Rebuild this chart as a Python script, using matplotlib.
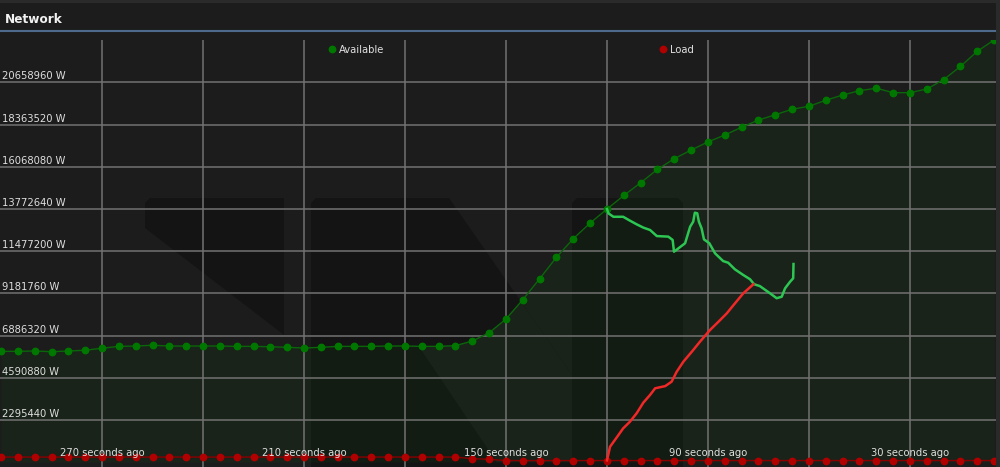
import matplotlib
matplotlib.use('Agg')
import matplotlib.pyplot as plt
from matplotlib.patches import Polygon, Rectangle
from matplotlib.lines import Line2D

# sampled series, one point every 5 seconds (seconds ago)
seconds_ago = list(range(300, 0, -5))
available_w = [6.03e6, 6.03e6, 6.05e6, 6.01e6, 6.05e6, 6.09e6, 6.20e6, 6.30e6, 6.32e6, 6.36e6,
               6.32e6, 6.32e6, 6.32e6, 6.32e6, 6.30e6, 6.30e6, 6.28e6, 6.25e6, 6.21e6, 6.25e6,
               6.30e6, 6.30e6, 6.30e6, 6.32e6, 6.32e6, 6.30e6, 6.30e6, 6.34e6, 6.59e6, 7.04e6,
               7.79e6, 8.84e6, 9.98e6, 11.15e6, 12.16e6, 13.01e6, 13.77e6, 14.51e6, 15.20e6, 15.93e6,
               16.51e6, 16.98e6, 17.42e6, 17.80e6, 18.22e6, 18.61e6, 18.90e6, 19.20e6, 19.36e6, 19.69e6,
               19.97e6, 20.21e6, 20.34e6, 20.10e6, 20.10e6, 20.30e6, 20.81e6, 21.53e6, 22.35e6, 22.97e6]
load_w = [0.28e6] * 28 + [0.19e6, 0.16e6] + [0.09e6] * 30

# live (high-rate) traces
live_available_s = [120.0, 119.6, 118.1, 115.2, 113.2, 111.2, 109.2, 107.2, 105.2, 101.8,
                    100.5, 100.1, 98.8, 96.8, 95.3, 94.4, 93.9, 93.2, 92.7, 91.9,
                    91.2, 89.6, 87.9, 85.5, 84.0, 82.0, 79.5, 77.5, 76.3, 74.6,
                    71.6, 69.6, 68.1, 67.1, 65.6, 64.7, 64.6]
live_available_w = [13.77e6, 13.54e6, 13.35e6, 13.35e6, 13.14e6, 12.94e6, 12.76e6, 12.63e6, 12.30e6, 12.27e6,
                    12.09e6, 11.45e6, 11.63e6, 11.91e6, 12.81e6, 13.08e6, 13.57e6, 13.54e6, 13.08e6, 12.72e6,
                    12.12e6, 11.91e6, 11.36e6, 10.94e6, 10.85e6, 10.49e6, 10.18e6, 9.95e6, 9.68e6, 9.58e6,
                    9.19e6, 8.92e6, 9.00e6, 9.46e6, 9.82e6, 10.00e6, 10.78e6]
live_load_s = [120.0, 119.1, 117.1, 115.2, 113.2, 111.2, 109.2, 107.2, 105.7, 102.7,
               100.8, 99.3, 97.3, 94.8, 92.4, 89.4, 86.9, 84.4, 82.4, 79.5, 76.5]
live_load_w = [0.10e6, 0.84e6, 1.35e6, 1.84e6, 2.20e6, 2.66e6, 3.24e6, 3.66e6, 4.02e6, 4.14e6,
               4.38e6, 4.92e6, 5.47e6, 6.01e6, 6.55e6, 7.19e6, 7.64e6, 8.10e6, 8.55e6, 9.19e6, 9.68e6]

y_ticks = [2295440, 4590880, 6886320, 9181760, 11477200, 13772640, 16068080, 18363520, 20658960]
x_grid = [270, 240, 210, 180, 150, 120, 90, 60, 30]
x_labels = [270, 210, 150, 90, 30]

W, H = 1000, 467
BG = '#1c1c1c'
fig = plt.figure(figsize=(W / 100, H / 100), dpi=100, facecolor=BG)
ax = fig.add_axes([0, 0, 996 / W, 1 - 40 / H])
ax.set_facecolor(BG)
ax.set_xlim(-300.3, -4.45)
ax.set_ylim(-0.261e6, 22.965e6)
for sp in ax.spines.values():
    sp.set_visible(False)
ax.set_xticks([-s for s in x_grid])
ax.set_yticks(y_ticks)
ax.tick_params(length=0, labelbottom=False, labelleft=False)
ax.set_axisbelow('line')
ax.grid(True, color='#727272', lw=1.1)


# faint logo watermark (pixel coords -> axes fraction)
def px(x, y):
    return (x / 996, (H - y) / 427)


logo_shapes = [
    [(150, 198), (284, 198), (284, 335), (145, 228), (145, 203)],
    [(316, 198), (449, 198), (572, 375), (572, 467), (311, 467), (311, 203)],
    [(577, 198), (678, 198), (683, 203), (683, 467), (572, 467), (572, 203)],
]
for shape in logo_shapes:
    ax.add_patch(Polygon([px(*p) for p in shape], closed=True, transform=ax.transAxes,
                         facecolor='#141414', edgecolor='none', zorder=0.5))

x = [-s for s in seconds_ago]

# lighter diagonal stroke of the logo, only visible under the filled area
area = Polygon(list(zip(x, available_w)) + [(x[-1], 0), (x[0], 0)], closed=True,
               transform=ax.transData, facecolor='none', edgecolor='none')
strip = Polygon([px(*p) for p in [(319, 198), (449, 198), (572, 375), (572, 467), (500, 467)]],
                closed=True, transform=ax.transAxes, facecolor=BG, edgecolor='none', zorder=0.6)
ax.add_patch(strip)
strip.set_clip_path(area)

ax.fill_between(x, 0, available_w, color='#008000', alpha=0.08, lw=0, zorder=1)
ax.plot(x, available_w, color='#0b660b', lw=1, marker='o', ms=4.6,
        mfc='#007800', mec='#007800', zorder=3)
ax.plot(x, load_w, color='#8a0000', lw=1, marker='o', ms=4.6,
        mfc='#b00000', mec='#b00000', zorder=3)
ax.plot([-s for s in live_available_s], live_available_w, color='#2dc653', lw=1.8, zorder=4)
ax.plot([-s for s in live_load_s], live_load_w, color='#f02828', lw=1.8, zorder=4)

for v in y_ticks:
    ax.annotate(f'{v} W', xy=(0, v), xycoords=('axes fraction', 'data'),
                xytext=(2, 3), textcoords='offset pixels', color='#dedede',
                fontsize=7.2, ha='left', va='baseline', zorder=5)
for s in x_labels:
    ax.annotate(f'{s} seconds ago', xy=(-s, 0), xycoords=('data', 'axes fraction'),
                xytext=(0, 10.5), textcoords='offset pixels', color='#dedede',
                fontsize=7.2, ha='center', va='baseline', zorder=5)

# header
fig.add_artist(Rectangle((0, 1 - 3 / H), 1, 3 / H, facecolor='#2a2a2a', edgecolor='none'))
fig.add_artist(Rectangle((996 / W, 0), 4 / W, 1, facecolor='#2a2a2a', edgecolor='none'))
fig.add_artist(Line2D([1 / W, 995 / W], [1 - 31 / H, 1 - 31 / H], color='#4d6a8c', lw=1.5))
fig.text(5 / W, 1 - 22.7 / H, 'Network', fontsize=8.7, weight='bold', color='#f2f2f2', va='baseline')

# legend
fig.add_artist(Line2D([331.7 / W], [1 - 49 / H], marker='o', ms=4.6, ls='none',
                      mfc='#007800', mec='#007800'))
fig.text(339 / W, 1 - 53.3 / H, 'Available', fontsize=7.2, color='#e0e0e0', va='baseline')
fig.add_artist(Line2D([662.7 / W], [1 - 49 / H], marker='o', ms=4.6, ls='none',
                      mfc='#b00000', mec='#b00000'))
fig.text(670 / W, 1 - 53.3 / H, 'Load', fontsize=7.2, color='#e0e0e0', va='baseline')

fig.savefig('out.png', dpi=100, facecolor=BG)
